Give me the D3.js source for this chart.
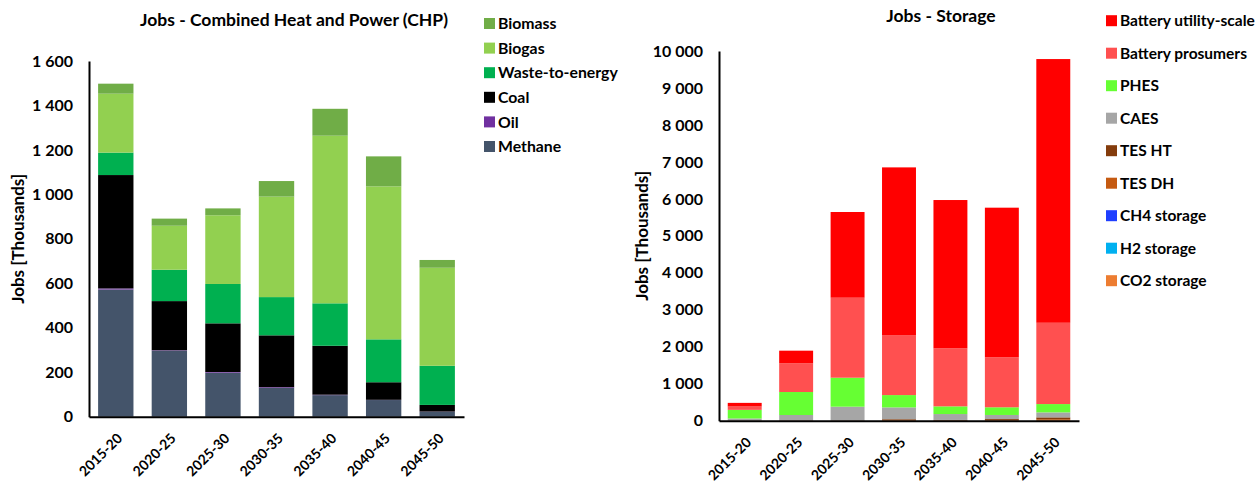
<!DOCTYPE html>
<html>
<head>
<meta charset="utf-8">
<script src="https://cdn.jsdelivr.net/npm/d3@7"></script>
<style>
  body { margin: 0; background: #fff; }
  svg text { font-family: Lato, "Open Sans", sans-serif; font-weight: bold; fill: #000; }
</style>
</head>
<body>
<div id="chart"></div>
<script>
const periods = ["2015-20", "2020-25", "2025-30", "2030-35", "2035-40", "2040-45", "2045-50"];

// CHP jobs, thousands (stack order bottom -> top)
const chpSeries = ["Methane", "Oil", "Coal", "Waste-to-energy", "Biogas", "Biomass"];
const chpColors = ["#44546A", "#7030A0", "#000000", "#00B050", "#92D050", "#70AD47"];
const methane = [572, 297, 198, 130, 97, 75, 22];
const oil     = [5, 2, 3, 3, 2, 1, 1];
const coal    = [510, 221, 219, 233, 220, 79, 30];
const waste   = [101, 141, 177, 172, 191, 193, 176];
const biogas  = [265, 198, 309, 452, 754, 688, 441];
const biomass = [45, 32, 31, 70, 121, 135, 35];
const chpTicks = [0, 200, 400, 600, 800, 1000, 1200, 1400, 1600];

// Storage jobs, thousands (stack order bottom -> top)
const stoSeries = ["CO2 storage", "H2 storage", "CH4 storage", "TES DH", "TES HT", "CAES", "PHES", "Battery prosumers", "Battery utility-scale"];
const stoColors = ["#ED7D31", "#00B0F0", "#1F3FFF", "#C55A11", "#843C0C", "#A6A6A6", "#66FF33", "#FF5050", "#FF0000"];
const co2Sto   = [0, 0, 0, 0, 0, 0, 0];
const h2Sto    = [0, 0, 0, 0, 0, 0, 0];
const ch4Sto   = [0, 0, 0, 0, 0, 0, 0];
const tesDH    = [2, 4, 4, 20, 10, 20, 40];
const tesHT    = [3, 5, 5, 20, 10, 25, 50];
const caes     = [55, 145, 370, 320, 160, 110, 135];
const phes     = [233, 622, 784, 333, 208, 208, 225];
const prosumer = [91, 776, 2164, 1623, 1569, 1353, 2199];
const utility  = [98, 342, 2318, 4536, 4012, 4046, 7133];
const stoTicks = [0, 1000, 2000, 3000, 4000, 5000, 6000, 7000, 8000, 9000, 10000];

const svg = d3.select("#chart").append("svg")
  .attr("width", 1257).attr("height", 482);

const fmt = v => d3.format(",")(v).replace(/,/g, " ");

function stackChart(cfg) {
  const rows = periods.map((p, i) => {
    const r = { period: p };
    cfg.series.forEach((s, k) => r[s] = cfg.values[k][i]);
    return r;
  });
  const stacked = d3.stack().keys(cfg.series)(rows);

  const x = d3.scaleBand().domain(periods).range(cfg.xRange).paddingInner(0.34).paddingOuter(0.17);
  const y = d3.scaleLinear().domain([0, cfg.ticks[cfg.ticks.length - 1]]).range(cfg.yRange);
  const color = d3.scaleOrdinal().domain(cfg.series).range(cfg.colors);

  const g = svg.append("g");

  g.selectAll("g.layer").data(stacked).join("g")
    .attr("class", "layer")
    .attr("fill", d => color(d.key))
    .selectAll("rect").data(d => d).join("rect")
    .attr("x", d => x(d.data.period))
    .attr("width", x.bandwidth())
    .attr("y", d => y(d[1]))
    .attr("height", d => y(d[0]) - y(d[1]));

  const yAxis = g.append("g")
    .attr("transform", `translate(${cfg.xRange[0]},0)`)
    .call(d3.axisLeft(y).tickValues(cfg.ticks).tickFormat(fmt).tickSize(0).tickPadding(16));
  yAxis.select(".domain").attr("stroke", "#000").attr("stroke-width", 2);
  yAxis.selectAll("text").attr("font-size", 16);

  const xAxis = g.append("g")
    .attr("transform", `translate(0,${cfg.yRange[0]})`)
    .call(d3.axisBottom(x).tickSize(0).tickSizeOuter(0));
  xAxis.select(".domain").attr("stroke", "#000").attr("stroke-width", 2);
  xAxis.selectAll("text")
    .attr("font-size", 14)
    .attr("text-anchor", "end")
    .attr("x", 0).attr("y", 0).attr("dy", "0.35em")
    .attr("transform", "translate(4,19) rotate(-45)");

  g.append("text")
    .attr("x", cfg.titleX).attr("y", cfg.titleY)
    .attr("text-anchor", "middle")
    .attr("font-size", 17.5)
    .text(cfg.title);

  g.append("text")
    .attr("transform", `translate(${cfg.yTitleX},${(cfg.yRange[0] + cfg.yRange[1]) / 2}) rotate(-90)`)
    .attr("text-anchor", "middle")
    .attr("dy", "0.35em")
    .attr("font-size", 17)
    .text("Jobs [Thousands]");

  const legendItems = cfg.series.slice().reverse();
  const legend = g.append("g")
    .attr("transform", `translate(${cfg.legendX},${cfg.legendY})`);
  const item = legend.selectAll("g").data(legendItems).join("g")
    .attr("transform", (d, i) => `translate(0,${i * cfg.legendStep})`);
  item.append("rect")
    .attr("x", 0).attr("y", -5.5).attr("width", 11).attr("height", 11)
    .attr("fill", d => color(d));
  item.append("text")
    .attr("x", 14).attr("y", 0).attr("dy", "0.36em")
    .attr("font-size", cfg.legendFont)
    .text(d => d);
}

stackChart({
  series: chpSeries, colors: chpColors,
  values: [methane, oil, coal, waste, biogas, biomass],
  ticks: chpTicks,
  xRange: [89, 464], yRange: [416.7, 61],
  title: "Jobs - Combined Heat and Power (CHP)", titleX: 294, titleY: 26,
  yTitleX: 18,
  legendX: 484, legendY: 23.5, legendStep: 24.6, legendFont: 15.8
});

stackChart({
  series: stoSeries, colors: stoColors,
  values: [co2Sto, h2Sto, ch4Sto, tesDH, tesHT, caes, phes, prosumer, utility],
  ticks: stoTicks,
  xRange: [719, 1079], yRange: [420.7, 51],
  title: "Jobs - Storage", titleX: 941, titleY: 22,
  yTitleX: 642,
  legendX: 1106, legendY: 20.7, legendStep: 32.5, legendFont: 15.5
});
</script>
</body>
</html>
